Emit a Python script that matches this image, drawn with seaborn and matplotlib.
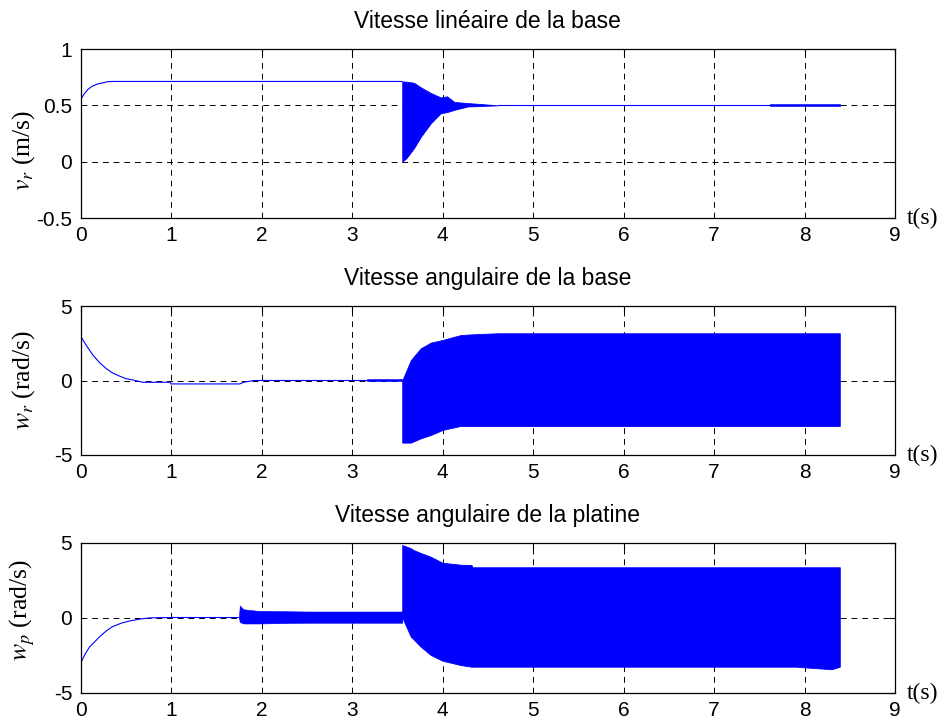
import matplotlib
matplotlib.use("Agg")
import matplotlib.pyplot as plt
import seaborn as sns

# ---- Vitesse linéaire de la base v_r (m/s) ----
vr_t = [0.0, 0.04, 0.08, 0.13, 0.19, 0.25, 0.30, 0.35, 3.555]
vr_v = [0.55, 0.60, 0.64, 0.67, 0.69, 0.70, 0.71, 0.712, 0.712]
vr_band_t = [3.555, 3.60, 3.685, 3.76, 3.87, 3.98, 4.05, 4.13, 4.28, 4.45, 4.61]
vr_band_hi = [0.712, 0.71, 0.70, 0.66, 0.61, 0.57, 0.58, 0.53, 0.52, 0.51, 0.50]
vr_band_lo = [0.0, 0.03, 0.12, 0.22, 0.34, 0.43, 0.44, 0.46, 0.49, 0.495, 0.50]
vr_tail_t = [4.61, 7.62, 8.39]
vr_tail_v = [0.50, 0.50, 0.50]
vr_chat_t = [7.62, 8.39]
vr_chat_hi = [0.512, 0.512]
vr_chat_lo = [0.49, 0.49]

# ---- Vitesse angulaire de la base w_r (rad/s) ----
wr_t = [0.0, 0.07, 0.137, 0.21, 0.28, 0.35, 0.43, 0.50, 0.58, 0.69, 0.99, 1.0, 1.76, 1.80, 1.92, 3.17]
wr_v = [2.99, 2.30, 1.71, 1.20, 0.82, 0.52, 0.30, 0.13, 0.03, -0.12, -0.12, -0.23, -0.23, -0.12, 0.0, 0.0]
wr_chat_t = [3.17, 3.555]
wr_chat_hi = [0.12, 0.12]
wr_chat_lo = [-0.06, -0.06]
wr_band_t = [3.555, 3.65, 3.76, 3.87, 4.0, 4.2, 4.33, 4.61, 8.39]
wr_band_hi = [0.0, 1.37, 2.16, 2.54, 2.72, 3.05, 3.10, 3.17, 3.17]
wr_band_lo = [-4.17, -4.17, -3.88, -3.66, -3.32, -3.05, -3.05, -3.05, -3.05]

# ---- Vitesse angulaire de la platine w_p (rad/s) ----
wp_t = [0.0, 0.05, 0.10, 0.16, 0.21, 0.28, 0.35, 0.45, 0.55, 0.66, 0.78, 1.0, 1.75]
wp_v = [-3.07, -2.45, -1.96, -1.60, -1.29, -0.92, -0.62, -0.38, -0.22, -0.10, -0.02, 0.0, 0.0]
wp_chat_t = [1.75, 1.76, 1.80, 1.95, 2.5, 3.0, 3.555]
wp_chat_hi = [0.0, 0.80, 0.55, 0.45, 0.40, 0.40, 0.40]
wp_chat_lo = [0.0, -0.30, -0.40, -0.40, -0.35, -0.35, -0.35]
wp_band_t = [3.555, 3.65, 3.68, 3.76, 3.87, 4.0, 4.2, 4.32, 4.33, 7.9, 8.3, 8.39]
wp_band_hi = [4.83, 4.62, 4.50, 4.30, 4.05, 3.65, 3.52, 3.50, 3.35, 3.35, 3.35, 3.35]
wp_band_lo = [0.0, -1.28, -1.45, -1.95, -2.50, -2.88, -3.17, -3.28, -3.28, -3.28, -3.45, -3.28]

titles = ["Vitesse linéaire de la base",
          "Vitesse angulaire de la base",
          "Vitesse angulaire de la platine"]
ylabels = [r"$v_r$ (m/s)", r"$w_r$ (rad/s)", r"$w_p$ (rad/s)"]
ylabel_y = [0.40, 0.50, 0.553]
xticks = [0, 1, 2, 3, 4, 5, 6, 7, 8, 9]
yticks_list = [[-0.5, 0, 0.5, 1], [-5, 0, 5], [-5, 0, 5]]
ytick_labels = [["-0.5", "0", "0.5", "1"], ["-5", "0", "5"], ["-5", "0", "5"]]
ylims = [(-0.5, 1), (-5, 5), (-5, 5)]

sns.set_style("white")
plt.rcParams["font.family"] = ["Liberation Sans", "DejaVu Sans"]
plt.rcParams["mathtext.fontset"] = "stix"
plt.rcParams["text.color"] = "black"
plt.rcParams["axes.labelcolor"] = "black"

BLUE = (0, 0, 1)
fig = plt.figure(figsize=(9.47, 7.24), dpi=100)
left, width = 80.5 / 947, 814.5 / 947
boxes = [(49, 218), (306, 455), (542.5, 692.5)]
axes = []
for top, bottom in boxes:
    axes.append(fig.add_axes([left, 1 - bottom / 724, width, (bottom - top) / 724]))

line_kw = dict(color=BLUE, linewidth=0.8, estimator=None, sort=False, legend=False)

# v_r
ax = axes[0]
sns.lineplot(x=vr_t, y=vr_v, ax=ax, **line_kw)
ax.fill_between(vr_band_t, vr_band_lo, vr_band_hi, color=BLUE, linewidth=0.6, zorder=3)
sns.lineplot(x=vr_tail_t, y=vr_tail_v, ax=ax, **line_kw)
ax.fill_between(vr_chat_t, vr_chat_lo, vr_chat_hi, color=BLUE, linewidth=0.4, zorder=3)

# w_r
ax = axes[1]
sns.lineplot(x=wr_t, y=wr_v, ax=ax, **line_kw)
ax.fill_between(wr_chat_t, wr_chat_lo, wr_chat_hi, color=BLUE, linewidth=0.4, zorder=3)
ax.fill_between(wr_band_t, wr_band_lo, wr_band_hi, color=BLUE, linewidth=0.6, zorder=3)

# w_p
ax = axes[2]
sns.lineplot(x=wp_t, y=wp_v, ax=ax, **line_kw)
ax.fill_between(wp_chat_t, wp_chat_lo, wp_chat_hi, color=BLUE, linewidth=0.4, zorder=3)
ax.fill_between(wp_band_t, wp_band_lo, wp_band_hi, color=BLUE, linewidth=0.6, zorder=3)

for i, ax in enumerate(axes):
    ax.set_xlim(0, 9)
    ax.set_ylim(*ylims[i])
    ax.set_xticks(xticks)
    ax.set_xticklabels([str(v) for v in xticks])
    ax.set_yticks(yticks_list[i])
    ax.set_yticklabels(ytick_labels[i])
    ax.tick_params(direction="in", length=4, width=0.8, top=True, right=True,
                   labelsize=15, pad=6, colors="black")
    ax.grid(True, color="black", linestyle=(0, (6, 5)), linewidth=0.7, zorder=0)
    ax.set_axisbelow(True)
    for s in ax.spines.values():
        s.set_color("black")
        s.set_linewidth(0.9)
        s.set_visible(True)
    ax.set_title(titles[i], fontsize=16.5, pad=15, color="black")
    ax.set_xlabel("")
    ax.set_ylabel(ylabels[i], fontsize=18.5, fontfamily="Liberation Serif")
    ax.yaxis.set_label_coords(-0.053, ylabel_y[i])
    ax.text(1.014, -0.005, "t(s)", transform=ax.transAxes, fontsize=17,
            fontfamily="Liberation Serif", ha="left", va="center")

fig.savefig("out.png", dpi=100)
